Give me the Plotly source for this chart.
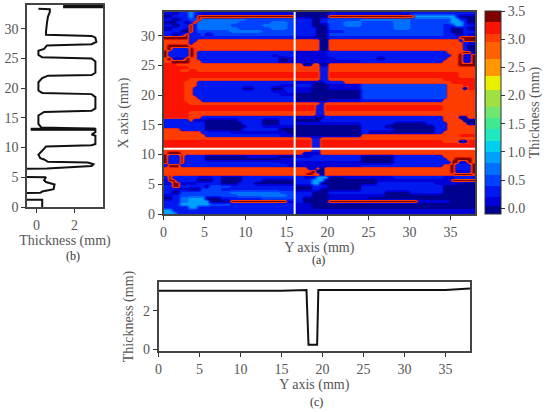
import plotly.graph_objects as go

W, H = 550, 412
FONT = "Liberation Serif"
TXT = "#555555"

# Thickness map: (number of 0.5 mm rows, "level<x-end>" runs), listed from X=34 down to X=0
map_rows = [
 (1, "b2 c3 f3.5 c4 b16 n20 b30 c31 c36 c38"),
 (1, "n1 c3 f3.5 c4 t16 n20 t30.5 f35.3 c36 n38"),
 (1, "c1 n2 c3 d4 t4.5 e10 d14 d16 c18 n19 c20 d24 e30 d35 f36 c37 n38"),
 (1, "n1.5 c2.5 n3 c3.5 t4 e9 d13 e15 d16 c18 n19 c20 d22 e24 d28 e30 d35 f36.5 c37 n38"),
 (1, "c1 n2 c3 t3.5 c4 e8 d12 e15 d16 c18 n20 d22 e24 d28 e30 d34 c35.5 f36.5 c38"),
 (1, "n1 c2.5 b3 t3.5 c4.2 e9 d13 e15 d16 c18.5 n20 d28 e30 d34 c35 n36.5 c37 n38"),
 (1, "c2 n3 t3.3 c4.2 d8 e12 d16 c18.5 n20 c22 d34 c35 n36.5 c38"),
 (1, "c1 n2 c2.5 t3 c4.4 d5 b6 d16 c18.5 n20 d34 c35.4 n36.6 c37 b38"),
 (1, "t3 c4.2 c16 b18.5 n20 c36 t38"),
 (1, "r2.8 c3.8 r18.8 n20 r36 c36.6 t38"),
 (1, "r2.8 c3.4 r18.8 n20 r36.4 c37 b38"),
 (1, "r0.6 t3 r18.8 n19.8 r36.4 c37 n38"),
 (1, "r0.3 t0.8 c2.8 t3.3 r18.8 n19.8 r36.4 c37 n38"),
 (1, "t0.7 c2.9 t3.4 r4.2 c16 b20 c34.5 r36.4 t37.3 n38"),
 (1, "t0.7 c2.9 t3.4 r3.8 c13 b14 c16 b20 c35 r36 t36.6 b37.5 t38"),
 (1, "r0.4 t0.9 b2.7 t3.2 r4 c14 n15 b21 c26 n27 c34.5 r35.9 t36.4 b37.7 t38"),
 (1, "r0.8 t2.8 r4.5 c14 n15 b24 c34 r35.9 t36.4 b37.7 t38"),
 (1, "s1.5 r17 n18 r19 n20 r36.2 t37.9 r38"),
 (1, "s3 r19 c19.8 r38"),
 (1, "s2 r3 s4 r19 c19.8 r38"),
 (2, "s19 c19.8 s36 r38"),
 (1, "s3 r19 c19.8 r34 s38"),
 (1, "s2.5 r4.2 c16 b18.5 n19.5 c22 r35 s38"),
 (1, "s2.5 r3.8 c14 b16 c18 n20 b24 d34.3 r36.4 s38"),
 (1, "s2.5 r3.7 c9.5 n11 c13 n14.5 c16 b18 n20 b24 d34.4 r36.4 n37.2 s38"),
 (1, "s2.5 r3.7 c13 b15 c16 b18 n24 d34.5 r38"),
 (1, "s2.5 r3.7 c14 b16 n24 d34.5 r38"),
 (1, "s2.5 r4 c16 n24 d34.5 r38"),
 (1, "s2.5 r4.5 c16 n20 b24 c34 r38"),
 (1, "s3 r18.8 c19.6 r38"),
 (2, "s18.6 c19.6 s34 r38"),
 (2, "s3 r18.4 c19.4 r38"),
 (1, "s3 r4.5 c16 b18.5 n19.5 c34 r36.2 n37 r38"),
 (1, "c3 r3.5 b5 n9 c12 n14 c16 n19 c34 r36.5 n38"),
 (1, "c4.8 n9.6 c12 n14 c16 b24 c28 n32 c34.5 r37 n38"),
 (1, "c4.8 n10 c12 b16 n24 c27 n33 c34.5 r38"),
 (1, "r2 c5 n9.5 c14 n24 c28 n33 c34.5 r38"),
 (1, "r4.5 c8 b15 n24 c25 n33 c34 r38"),
 (1, "r5 c14 b16 n24 r36 s38"),
 (1, "r18.2 c18.9 r38"),
 (1, "s18.2 c18.9 s34 r36.2 n36.8 s38"),
 (2, "s18 c18.9 s38"),
 (1, "r18 c19 r38"),
 (1, "r0.4 t2 r17 b19 r38"),
 (1, "t0.5 c1.9 t2.4 c5 n10 b14 n16 b18 c24 n28 c34 r38"),
 (1, "t0.4 c2 t2.4 c5 n14 b16 c24 n28 c34.5 r35.7 t37.3 r38"),
 (1, "t0.4 c2 t2.4 c14 b24 n28 c35 t35.8 b37.2 t37.7 r38"),
 (1, "c0.4 t2 c15 b24 c34 r35.1 t35.6 c37.4 t37.9 r38"),
 (1, "r17.5 b18.5 r19 n19.5 r35.1 t35.6 c37.4 t37.9 r38"),
 (1, "r17.8 t18.3 r18.6 n19.4 r35.2 t35.7 b37.3 t37.8 r38"),
 (1, "r17.5 t18.2 r18.8 n19.5 r35.6 t37.4 r38"),
 (1, "c0.4 t1 c4 b6 c7 n9.5 c17 b18.5 f20 n22 b28 c34 b35.4 c38"),
 (1, "b0.5 t1.5 c4 n6 c7 n9.5 c12 n16 c18 f19.5 n26 b35.2 t37.8 b38"),
 (1, "b1 t2 b4 c7 n9 c11 n16 c18 f19 n26 c33 b36 n38"),
 (1, "c1 t2.2 c5 n5.5 d8 c16 n18 c20 n24 c34 n38"),
 (1, "c1 b3 n4.5 d7 c16 n18 c19 n24 c34 n38"),
 (1, "c1 n2 d8 e14 d16 c18 n20 c27 n30 c34 n38"),
 (1, "b1 c2 d9 e15 d16 c18 n20 b27 n38"),
 (1, "n1 c2 e3 f5 n7 c12 d16 c17 n20 b25 n38"),
 (1, "c2 e3 f5.7 n8 t15 b16 c17 n20 t31 b35 n38"),
 (1, "c2 f5.5 d8 c16 b18 n38"),
 (1, "c3 f4 c16 b18 n34 n38"),
 (1, "f1 c16 b38"),
 (1, "f1.6 c16 b38"),
]
level_values = {"n": -0.05, "b": 0.12, "c": 0.3, "d": 0.5, "e": 0.7, "f": 0.9,
                "r": 3.03, "s": 3.12, "t": 3.5}

# Colour steps: (upper value, colour)
cbar_steps = [(0.05, "#00008f"), (0.2, "#0000d8"), (0.4, "#0018f0"), (0.6, "#0040ff"),
              (0.8, "#0070ff"), (1.0, "#00a0ff"), (1.2, "#00d0f0"), (1.4, "#20e8c0"),
              (1.6, "#40e890"), (1.8, "#70e870"), (2.1, "#a0e040"), (2.35, "#e8f000"),
              (2.65, "#ff9800"), (2.95, "#ff6000"), (3.1, "#ff3c00"), (3.3, "#fa1400"),
              (3.5, "#800000")]
# Colours of the thick (red) layer of the map, laid over the thin (blue) layer
red_layer_steps = [(1.45, "rgba(0,0,0,0)"), (1.7, "rgba(200,20,60,0.85)"), (2.4, "#ff3c00"),
                   (3.07, "#ff3c00"), (3.09, "#fa1400"), (3.16, "#fa1400"), (3.24, "#b00c0c"),
                   (3.3, "#7c0000"), (3.5, "#7c0000")]
zmin, zmax = -0.1, 3.5
thin_limit = 1.5

# Panel (b): thickness and X position along the white vertical line
b_thick = [0.3, 0.3, -2, -2, 0.2, 0.3, 0.9, 0.95, 0.5, 0.4, 0.5, -2, -2, 0.55, 2.9, 3.0, 2.7, 0.6, 0.4,
           0.2, 0.1, 0.3, 0.45, 0.5, 2.9, 3.1, 3.1, 2.9, 3.1, 3.1, -0.3, 3.1, 0.25, 0.1, 0.1, 0.4, 2.9, 3.1,
           3.1, 2.9, 0.3, 0.1, 0.1, 0.3, 0.6, 2.9, 3.1, 3.1, 2.9, 0.3, 0.1, 0.1, 0.4, 0.55, 2.9, 3.15,
           3.1, 2.9, 0.5, 0.5, 0.55, 0.6, 0.7, 0.7, 0.1]
b_x = [0, 1.2, 1.2, 2.3, 2.4, 2.6, 3.0, 3.8, 4.2, 4.5, 5.0, 5.1, 6.3, 6.5, 6.9, 7.2, 7.5, 7.6, 8.0,
       8.2, 8.8, 9.4, 10, 10.2, 10.4, 10.6, 12, 12.2, 12.6, 13.1, 13.1, 13.15, 13.4, 14, 15.4, 16.0, 16.2, 16.6,
       18.5, 19, 19.2, 19.6, 21, 21.7, 22.1, 22.2, 22.6, 24.5, 25, 25.2, 25.6, 26.3, 26.6, 27.2, 27.4, 27.8,
       28.5, 28.8, 29.0, 29.5, 31, 32, 32.8, 33.3, 33.35]
# Heavy black run at the top of panel (b)
b_top_thick = [1.4, 3.5]
b_top_x = [33.8, 33.8]
b_spike_thick = [-0.3, 3.1]
b_spike_x = [13.1, 13.1]

# Panel (c): thickness along the white horizontal line
c_y = [0, 5, 10, 15, 18.05, 18.3, 19.35, 19.5, 25, 30, 35, 38]
c_thick = [3.05, 3.04, 3.03, 3.05, 3.08, 0.24, 0.24, 3.08, 3.08, 3.09, 3.08, 3.16]

ticks_y = [0, 5, 10, 15, 20, 25, 30, 35]
ticks_x_b = [0, 2]
ticks_x_c = [0, 2]
cbar_ticks = [0.0, 0.5, 1.0, 1.5, 2.0, 2.5, 3.0, 3.5]
line_x_pos = 16
line_y_pos = 11

# Expand the runs into a matrix (0.5 mm cells)
n_cols = 76
z = []
for count, spec in map_rows:
    runs = [(r[0], float(r[1:])) for r in spec.split()]
    row = []
    for i in range(n_cols):
        xc = (i + 0.5) * 0.5
        val = runs[-1][0]
        for ch, end in runs:
            if xc < end:
                val = ch
                break
        row.append(level_values[val])
    z.extend([row] * count)
n_rows = len(z)
xs = [(i + 0.5) * 0.5 for i in range(n_cols)]
ys = [34 - (i + 0.5) * 34 / n_rows for i in range(n_rows)]
# Under the red layer the blue layer just continues with the main blue
z_thin = [[v if v < thin_limit else level_values["c"] for v in row] for row in z]


def frac(v):
    return (v - zmin) / (zmax - zmin)


cs = []
prev = zmin
for up, col in cbar_steps:
    cs.append([frac(prev), col])
    cs.append([frac(up), col])
    prev = up

red_cs = [[0.0, "rgba(0,0,0,0)"]] + [[frac(v), c] for v, c in red_layer_steps]


def dom_x(a, b):
    return [a / W, b / W]


def dom_y(top, bottom):
    return [1 - bottom / H, 1 - top / H]


fig = go.Figure()
fig.add_trace(go.Heatmap(
    x=xs, y=ys, z=z_thin, zmin=zmin, zmax=zmax, colorscale=cs, zsmooth="best",
    xaxis="x", yaxis="y", hoverinfo="skip", showscale=False,
))
fig.add_trace(go.Heatmap(
    x=xs, y=ys, z=z, zmin=zmin, zmax=zmax, colorscale=red_cs, zsmooth="best",
    xaxis="x", yaxis="y", hoverinfo="skip", showscale=False,
))
# Invisible scale carrier: draws the jet colour bar
fig.add_trace(go.Scatter(
    x=[0, 0], y=[0, 0], mode="markers", xaxis="x", yaxis="y", hoverinfo="skip", showlegend=False,
    marker=dict(size=1, opacity=0, color=[zmin, zmax], cmin=zmin, cmax=zmax, colorscale=cs, showscale=True,
                colorbar=dict(
                    x=484.5 / W, xanchor="left", y=1 - 214 / H, yanchor="bottom",
                    len=203 / H, lenmode="fraction", thickness=16, thicknessmode="pixels",
                    xpad=0, ypad=0, outlinecolor="#333333", outlinewidth=1,
                    tickvals=cbar_ticks, ticktext=[f"{v:.1f}" for v in cbar_ticks],
                    ticks="outside", ticklen=4, tickcolor="#333333",
                    tickfont=dict(family=FONT, size=14, color=TXT),
                    title=dict(text="Thickness (mm)", side="right",
                               font=dict(family=FONT, size=14, color=TXT)),
                )),
))
fig.add_trace(go.Scatter(x=b_thick, y=b_x, mode="lines", xaxis="x2", yaxis="y2",
                         line=dict(color="#111111", width=2), hoverinfo="skip", showlegend=False))
fig.add_trace(go.Scatter(x=b_top_thick, y=b_top_x, mode="lines", xaxis="x2", yaxis="y2",
                         line=dict(color="#111111", width=4), hoverinfo="skip", showlegend=False))
fig.add_trace(go.Scatter(x=b_spike_thick, y=b_spike_x, mode="lines", xaxis="x2", yaxis="y2",
                         line=dict(color="#111111", width=3), hoverinfo="skip", showlegend=False))
fig.add_trace(go.Scatter(x=c_y, y=c_thick, mode="lines", xaxis="x3", yaxis="y3",
                         line=dict(color="#111111", width=2), hoverinfo="skip", showlegend=False))

common = dict(showgrid=False, zeroline=False, showline=True, mirror=True, linecolor="#444444",
              linewidth=1.5, ticks="outside", ticklen=4, tickcolor="#333333", automargin=False,
              tickfont=dict(family=FONT, size=14, color=TXT))
tf = dict(family=FONT, size=14, color=TXT)

fig.update_layout(
    width=W, height=H, autosize=False, margin=dict(l=0, r=0, t=0, b=0, autoexpand=False),
    paper_bgcolor="white", plot_bgcolor="white", showlegend=False,
    xaxis=dict(common, domain=dom_x(163.5, 475), range=[0, 38], tickvals=ticks_y,
               title=dict(text="Y axis (mm)", font=tf, standoff=2), anchor="y"),
    yaxis=dict(common, domain=dom_y(12, 214), range=[0, 34], tickvals=ticks_y[:-1],
               title=dict(text="X axis (mm)", font=tf, standoff=9), anchor="x"),
    xaxis2=dict(common, domain=dom_x(27, 103), range=[-0.5, 3.5], tickvals=ticks_x_b,
                title=dict(text="Thickness (mm)", font=tf, standoff=4), anchor="y2"),
    yaxis2=dict(common, domain=dom_y(5, 207), range=[0, 34], tickvals=ticks_y[:-1], anchor="x2"),
    xaxis3=dict(common, domain=dom_x(158.5, 470), range=[0, 38], tickvals=ticks_y,
                title=dict(text="Y axis (mm)", font=tf, standoff=2), anchor="y3"),
    yaxis3=dict(common, domain=dom_y(282, 351), range=[-0.08, 3.5], tickvals=ticks_x_c,
                title=dict(text="Thickness (mm)", font=tf, standoff=6), anchor="x3"),
    shapes=[
        dict(type="line", xref="x", yref="y", x0=line_x_pos, x1=line_x_pos, y0=0, y1=34,
             line=dict(color="white", width=2)),
        dict(type="line", xref="x", yref="y", x0=0, x1=38, y0=line_y_pos, y1=line_y_pos,
             line=dict(color="white", width=2)),
    ],
    annotations=[
        dict(text="(a)", x=318 / W, y=1 - 260 / H, xref="paper", yref="paper", showarrow=False,
             yanchor="middle", font=dict(family=FONT, size=12, color="#333333")),
        dict(text="(b)", x=64 / W, y=1 - 256 / H, xref="paper", yref="paper", showarrow=False,
             yanchor="middle", font=dict(family=FONT, size=12, color="#333333")),
        dict(text="(c)", x=316 / W, y=1 - 402 / H, xref="paper", yref="paper", showarrow=False,
             yanchor="middle", font=dict(family=FONT, size=12, color="#333333")),
    ],
)
fig.write_html("out.html", config={"displayModeBar": False},
               post_script="document.body.style.margin='0';")
